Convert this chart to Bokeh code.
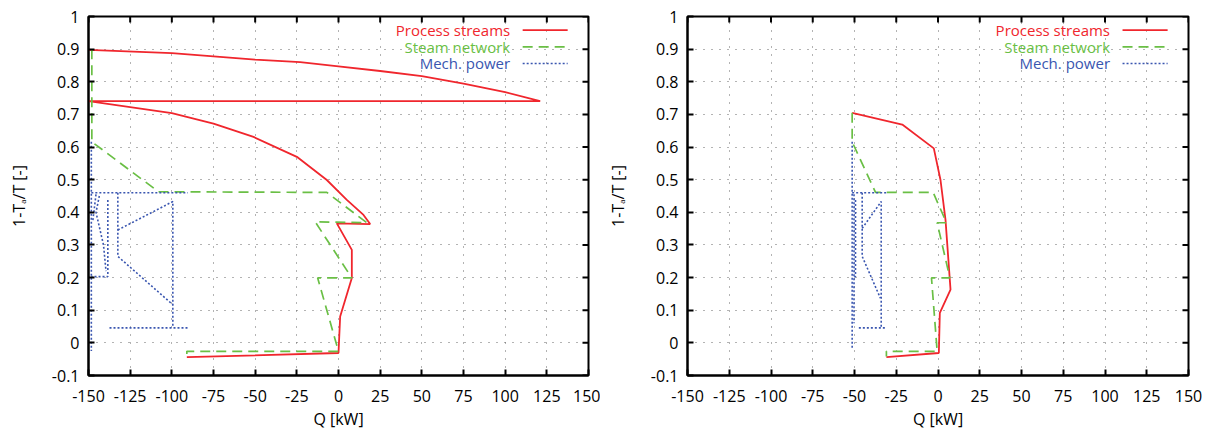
from bokeh.plotting import figure
from bokeh.models import FixedTicker, Label, Arrow, Range1d
from bokeh.layouts import row
from bokeh.embed import file_html
from bokeh.resources import INLINE

# ---------------- data ----------------
x_ticks = [-150, -125, -100, -75, -50, -25, 0, 25, 50, 75, 100, 125, 150]
x_tick_labels = ["-150", "-125", "-100", "-75", "-50", "-25", "0", "25", "50", "75", "100", "125", "150"]
y_ticks = [-0.1, 0, 0.1, 0.2, 0.3, 0.4, 0.5, 0.6, 0.7, 0.8, 0.9, 1.0]
y_tick_labels = ["-0.1", "0", "0.1", "0.2", "0.3", "0.4", "0.5", "0.6", "0.7", "0.8", "0.9", "1"]

series_names = ["Process streams", "Steam network", "Mech. power"]

# left panel
left_process_q = [-150, -100, -50, -23, 0, 25, 50, 75, 100, 121, -150, -100, -75, -51, -25, -7, 5, 15, 19, -1, 8, 8, 1, 0, -91]
left_process_t = [0.898, 0.888, 0.868, 0.860, 0.847, 0.833, 0.817, 0.794, 0.768, 0.741, 0.741, 0.704, 0.672, 0.631, 0.570, 0.499, 0.438, 0.392, 0.364, 0.366, 0.285, 0.199, 0.081, -0.031, -0.044]

left_steam_q = [-148, -148, -108, -7, 17, -14, 8, -12.5, 0, -91, -91]
left_steam_t = [0.900, 0.616, 0.463, 0.461, 0.368, 0.371, 0.199, 0.199, -0.026, -0.026, -0.042]

left_mech_q = [[-148.3, -148.3], [-148.3, -90.4], [-132.4, -99.4, -99.4], [-137.4, -90.4],
               [-132.4, -132.4, -99.4], [-138.4, -138.4, -148.3], [-145.5, -147.5],
               [-143.5, -145.5, -141.0, -139.5]]
left_mech_t = [[0.616, -0.025], [0.460, 0.460], [0.346, 0.433, 0.046], [0.046, 0.046],
               [0.460, 0.265, 0.117], [0.438, 0.203, 0.203], [0.455, 0.370],
               [0.450, 0.400, 0.300, 0.220]]

# right panel
right_process_q = [-51.4, -21.4, -2.5, 1.5, 4.5, 7.5, 1.1, 0.5, -30.9]
right_process_t = [0.705, 0.669, 0.596, 0.499, 0.377, 0.163, 0.092, -0.031, -0.044]

right_steam_q = [-51.4, -51.4, -37.4, -2.9, 5.1, -0.5, 7.1, -3.9, -0.5, -30.9, -30.9]
right_steam_t = [0.705, 0.616, 0.461, 0.461, 0.368, 0.368, 0.199, 0.199, -0.026, -0.026, -0.042]

right_mech_q = [[-51.4, -51.4], [-51.4, -30.4], [-45.4, -34.0, -34.0], [-47.4, -31.4],
                [-45.4, -45.4, -34.5], [-49.4, -49.4, -51.4], [-50.3, -50.3]]
right_mech_t = [[0.616, -0.020], [0.460, 0.460], [0.351, 0.433, 0.046], [0.046, 0.046],
                [0.460, 0.265, 0.137], [0.438, 0.203, 0.203], [0.455, 0.060]]

# ---------------- style ----------------
FONT = "Open Sans"
RED = "#f0262d"
GREEN = "#6abf45"
BLUE = "#3a56b0"
colors = [RED, GREEN, BLUE]
dashes = ["solid", "10 6", "2 2"]
widths = [1.8, 1.7, 1.6]

X_MIN, X_MAX = -150, 150
Y_MIN, Y_MAX = -0.1, 1.0
FRAME_W, FRAME_H = 500, 360
TICK_PX = 6


def style_axis(ax, ticks, labels):
    ax.ticker = FixedTicker(ticks=ticks)
    ax.major_label_overrides = dict(zip(ticks, labels))
    ax.axis_line_color = "black"
    ax.axis_line_width = 2
    ax.major_tick_in = TICK_PX
    ax.major_tick_out = 0
    ax.major_tick_line_width = 2
    ax.major_tick_line_color = "black"
    ax.minor_tick_line_color = None
    ax.major_label_text_font = FONT
    ax.major_label_text_color = "black"
    ax.major_label_text_font_size = "16px"
    ax.axis_label_text_font = FONT
    ax.axis_label_text_font_size = "16px"
    ax.axis_label_text_font_style = "normal"
    ax.axis_label_text_color = "black"


def make_panel(pq, pt, sq, st, mq, mt, width, border_left, border_right):
    p = figure(width=width, height=432,
               x_range=Range1d(X_MIN, X_MAX), y_range=Range1d(Y_MIN, Y_MAX),
               output_backend="svg", toolbar_location=None,
               min_border_left=border_left, min_border_right=border_right,
               min_border_top=16, min_border_bottom=56)
    p.outline_line_color = "black"
    p.outline_line_width = 2
    p.background_fill_color = "white"
    p.border_fill_color = "white"

    style_axis(p.xaxis[0], x_ticks, x_tick_labels)
    style_axis(p.yaxis[0], y_ticks, y_tick_labels)
    p.xaxis[0].major_label_standoff = 14
    p.yaxis[0].major_label_standoff = 9
    p.xaxis[0].axis_label = "Q [kW]"
    p.xaxis[0].axis_label_standoff = 3
    p.yaxis[0].axis_label = "1-T\u2090/T [-]"
    p.yaxis[0].axis_label_standoff = 19

    for g in p.grid:
        g.grid_line_color = "#666666"
        g.grid_line_dash = "1 7"
        g.grid_line_width = 1
    p.xgrid.ticker = FixedTicker(ticks=x_ticks)
    p.ygrid.ticker = FixedTicker(ticks=y_ticks)

    # mirrored inward ticks on top and right edges (gnuplot "mirror")
    dy = TICK_PX * (Y_MAX - Y_MIN) / FRAME_H
    dx = TICK_PX * (X_MAX - X_MIN) / FRAME_W
    p.segment(x0=x_ticks, y0=[Y_MAX] * len(x_ticks), x1=x_ticks, y1=[Y_MAX - dy] * len(x_ticks),
              line_color="black", line_width=2)
    p.segment(x0=[X_MAX] * len(y_ticks), y0=y_ticks, x1=[X_MAX - dx] * len(y_ticks), y1=y_ticks,
              line_color="black", line_width=2)

    p.line(pq, pt, line_color=RED, line_width=widths[0])
    p.line(sq, st, line_color=GREEN, line_width=widths[1], line_dash=dashes[1])
    p.multi_line(mq, mt, line_color=BLUE, line_width=widths[2], line_dash=dashes[2])

    # gnuplot-style legend: right-aligned coloured text, sample line to the right
    legend_text_x = 103.0
    legend_line_x0 = 110.5
    legend_line_x1 = 137.5
    legend_rows = [0.958, 0.907, 0.856]
    for name, c, d, w, yy in zip(series_names, colors, dashes, widths, legend_rows):
        p.add_layout(Label(x=legend_text_x, y=yy, text=name, text_align="right",
                           text_baseline="middle", text_color=c, text_font=FONT,
                           text_font_size="15px"))
        p.add_layout(Arrow(x_start=legend_line_x0, y_start=yy, x_end=legend_line_x1, y_end=yy,
                           start=None, end=None, line_color=c, line_width=w, line_dash=d))
    return p


p1 = make_panel(left_process_q, left_process_t, left_steam_q, left_steam_t,
                left_mech_q, left_mech_t, width=600, border_left=88, border_right=12)
p2 = make_panel(right_process_q, right_process_t, right_steam_q, right_steam_t,
                right_mech_q, right_mech_t, width=604, border_left=87, border_right=16)

layout = row(p1, p2)
open("out.html", "w").write(file_html(layout, INLINE))
